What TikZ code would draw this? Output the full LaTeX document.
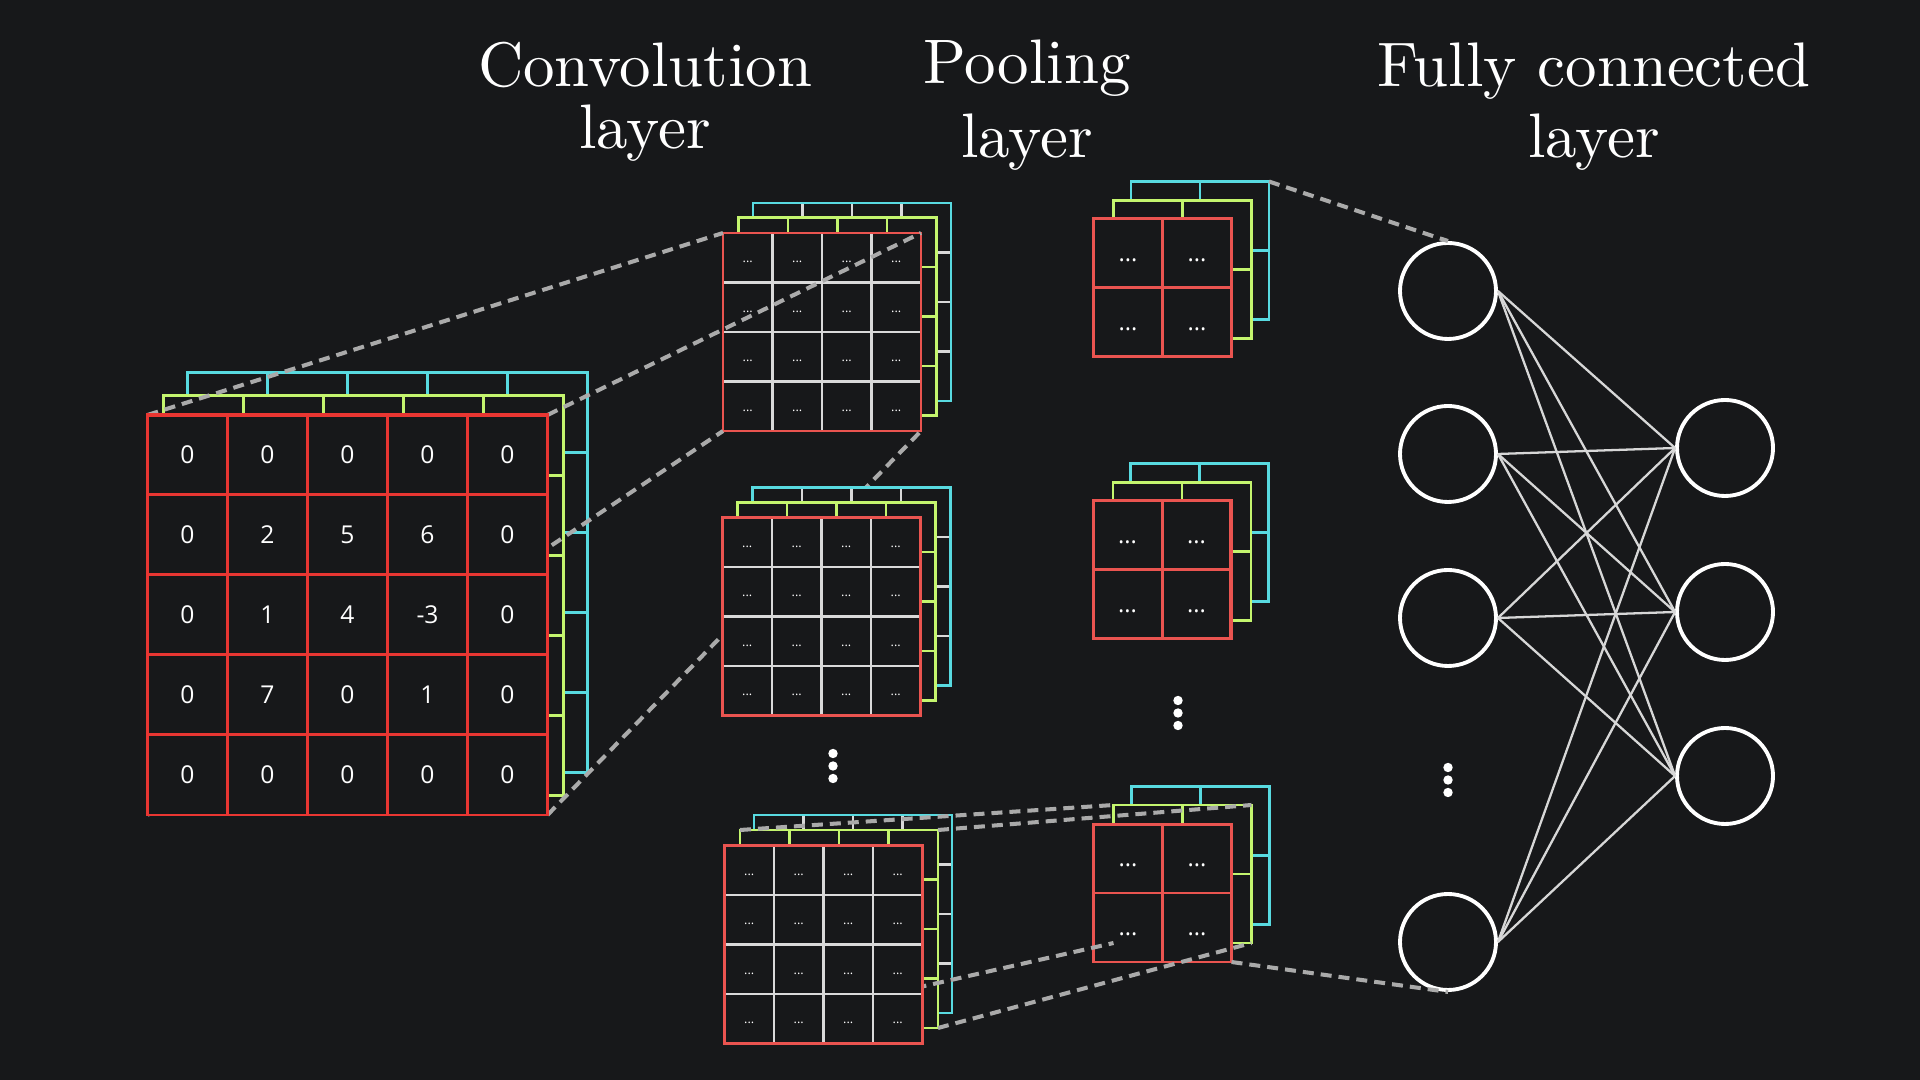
\documentclass[tikz,border=0pt]{standalone}
\usepackage{fontspec}
\newfontfamily\cellfont{Open Sans}
\newfontfamily\titlefont{lmroman10-regular.otf}
\usetikzlibrary{positioning}
\definecolor{BgDark}{RGB}{23, 24, 26}
\definecolor{GridRed}{RGB}{233, 54, 50}
\definecolor{MapRed}{RGB}{234, 84, 80}
\definecolor{GridGreen}{RGB}{196, 245, 110}
\definecolor{GridCyan}{RGB}{88, 218, 224}
\definecolor{InnerGray}{RGB}{217, 217, 217}
\definecolor{DashGray}{RGB}{170, 170, 170}
\definecolor{EdgeGray}{RGB}{215, 215, 215}

% one layer of a feature map: name, centre, size, cell, border, inner lines, width
\newcommand{\fmap}[7]{%
  \node[layer, minimum size=#3cm] (#1) at (#2) {};
  \draw[#6, line width=#7, shift={(#1.south west)}, step=#4] (0,0) grid (#3,#3);
  \draw[#5, line width=#7] (#1.south west) rectangle (#1.north east);
}

\begin{document}
\begin{tikzpicture}[
    layer/.style={rectangle, fill=BgDark, inner sep=0pt, outer sep=0pt},
    cellnum/.style={text=white, inner sep=0pt, font=\cellfont\fontsize{7}{8}\selectfont},
    mapdots/.style={text=white, inner sep=0pt, font=\cellfont\fontsize{3.6}{4}\selectfont},
    pooldots/.style={text=white, inner sep=0pt, font=\cellfont\fontsize{6.7}{8}\selectfont},
    title/.style={text=white, align=center, inner sep=0pt, anchor=north},
    link/.style={DashGray, line width=1.15pt, dash pattern=on 0.11cm off 0.07cm},
    neuron/.style={circle, draw=white, line width=1.1pt, minimum size=0.96cm, inner sep=0pt, fill=BgDark},
    edge/.style={EdgeGray, line width=0.65pt}
  ]
    \useasboundingbox (0,0) rectangle (19.2,10.8);
    \fill[BgDark] (0,0) rectangle (19.2,10.8);

    % Titles
    \node[title, font=\titlefont\fontsize{17.9}{17.9}\selectfont] (tconv) at (6.45,10.39) {Convolution\\layer};
    \node[title, font=\titlefont\fontsize{17.9}{21}\selectfont] (tpool) at (10.27,10.41) {Pooling\\layer};
    \node[title, font=\titlefont\fontsize{17.9}{20.2}\selectfont] (tfc) at (15.94,10.38) {Fully connected\\layer};

    % Input image, back channels
    \fmap{inC}{3.875,5.075}{4}{0.8}{GridCyan}{GridCyan}{0.8pt}
    \fmap{inG}{3.635,4.845}{4}{0.8}{GridGreen}{GridGreen}{0.8pt}
    \node[layer, fill=none, minimum size=4cm] (inArea) at (3.475,4.65) {};

    % First feature map
    \fmap{c1C}{8.52,7.78}{1.98}{0.495}{GridCyan}{InnerGray}{0.65pt}
    \fmap{c1G}{8.375,7.635}{1.98}{0.495}{GridGreen}{GridGreen}{0.65pt}
    \fmap{c1}{8.22,7.48}{1.98}{0.495}{MapRed}{InnerGray}{0.65pt}

    % Receptive field lines
    \draw[link] (inArea.north west) -- (c1.north west);
    \draw[link] (inArea.north east) -- (c1.north east);
    \draw[link] (inArea.south west) -- (c1.south west);
    \draw[link] (inArea.south east) -- (c1.south east);

    % Input image, front channel
    \fmap{in}{inArea}{4}{0.8}{GridRed}{GridRed}{0.85pt}
    \foreach \row [count=\r] in {{0,0,0,0,0},{0,2,5,6,0},{0,1,4,-3,0},{0,7,0,1,0},{0,0,0,0,0}} {
      \foreach \v [count=\c] in \row
        \node[cellnum] (v-\r-\c) at ([shift={(\c*0.8-0.4,0.4-\r*0.8)}]in.north west) {\v};
    }

    % Second feature map
    \fmap{c2C}{8.515,4.935}{1.98}{0.495}{GridCyan}{InnerGray}{0.65pt}
    \fmap{c2G}{8.365,4.785}{1.98}{0.495}{GridGreen}{GridGreen}{0.65pt}
    \fmap{c2}{8.215,4.635}{1.98}{0.495}{MapRed}{InnerGray}{0.65pt}
    \foreach \m in {c1,c2}
      \foreach \r in {1,...,4}
        \foreach \c in {1,...,4}
          \node[mapdots] (\m-\r-\c) at ([shift={(\c*0.495-0.2475,0.2025-\r*0.495)}]\m.north west) {...};

    % Pooled maps
    \fmap{p1C}{12.0,8.295}{1.38}{0.69}{GridCyan}{GridCyan}{0.8pt}
    \fmap{p1G}{11.825,8.105}{1.38}{0.69}{GridGreen}{GridGreen}{0.8pt}
    \fmap{p1}{11.625,7.925}{1.38}{0.69}{MapRed}{MapRed}{0.85pt}
    \fmap{p2C}{11.995,5.475}{1.38}{0.69}{GridCyan}{GridCyan}{0.8pt}
    \fmap{p2G}{11.82,5.285}{1.38}{0.69}{GridGreen}{GridGreen}{0.8pt}
    \fmap{p2}{11.62,5.105}{1.38}{0.69}{MapRed}{MapRed}{0.85pt}
    \fmap{p3C}{12.005,2.245}{1.38}{0.69}{GridCyan}{GridCyan}{0.8pt}
    \fmap{p3G}{11.825,2.06}{1.38}{0.69}{GridGreen}{GridGreen}{0.8pt}
    \fmap{p3}{11.625,1.87}{1.38}{0.69}{MapRed}{MapRed}{0.85pt}
    \foreach \m in {p1,p2,p3}
      \foreach \r in {1,2}
        \foreach \c in {1,2}
          \node[pooldots] (\m-\r-\c) at ([shift={(\c*0.69-0.345,0.275-\r*0.69)}]\m.north west) {...};

    % Last feature map and pooling lines
    \fmap{c3C}{8.53,1.66}{1.98}{0.495}{GridCyan}{InnerGray}{0.65pt}
    \fmap{c3G}{8.39,1.51}{1.98}{0.495}{GridGreen}{GridGreen}{0.65pt}
    \draw[link] (c3G.north west) -- (p3G.north west);
    \draw[link] (c3G.north east) -- (p3G.north east);
    \draw[link] (c3G.south west) -- (p3G.south west);
    \draw[link] (c3G.south east) -- (p3G.south east);
    \fmap{c3}{8.235,1.355}{1.98}{0.495}{MapRed}{InnerGray}{0.65pt}
    \foreach \r in {1,...,4}
      \foreach \c in {1,...,4}
        \node[mapdots] (c3-\r-\c) at ([shift={(\c*0.495-0.2475,0.2025-\r*0.495)}]c3.north west) {...};

    % Vertical ellipses
    \foreach \k in {-1,0,1} {
      \fill[white] (8.33,3.14+\k*0.125) circle (0.047);
      \fill[white] (11.78,3.67+\k*0.125) circle (0.047);
      \fill[white] (14.48,3.00+\k*0.125) circle (0.047);
    }

    % Fully connected layer
    \node[neuron] (fcL1) at (14.48,7.89) {};
    \node[neuron] (fcL2) at (14.48,6.26) {};
    \node[neuron] (fcL3) at (14.48,4.62) {};
    \node[neuron] (fcL4) at (14.48,1.38) {};
    \node[neuron] (fcR1) at (17.25,6.32) {};
    \node[neuron] (fcR2) at (17.25,4.68) {};
    \node[neuron] (fcR3) at (17.25,3.04) {};
    \foreach \i in {1,...,4}
      \foreach \j in {1,2,3}
        \draw[edge] (fcL\i.east) -- (fcR\j.west);

    \draw[link] (p1C.north east) -- (fcL1.north);
    \draw[link] (p3.south east) -- (fcL4.south);
  \end{tikzpicture}
\end{document}
